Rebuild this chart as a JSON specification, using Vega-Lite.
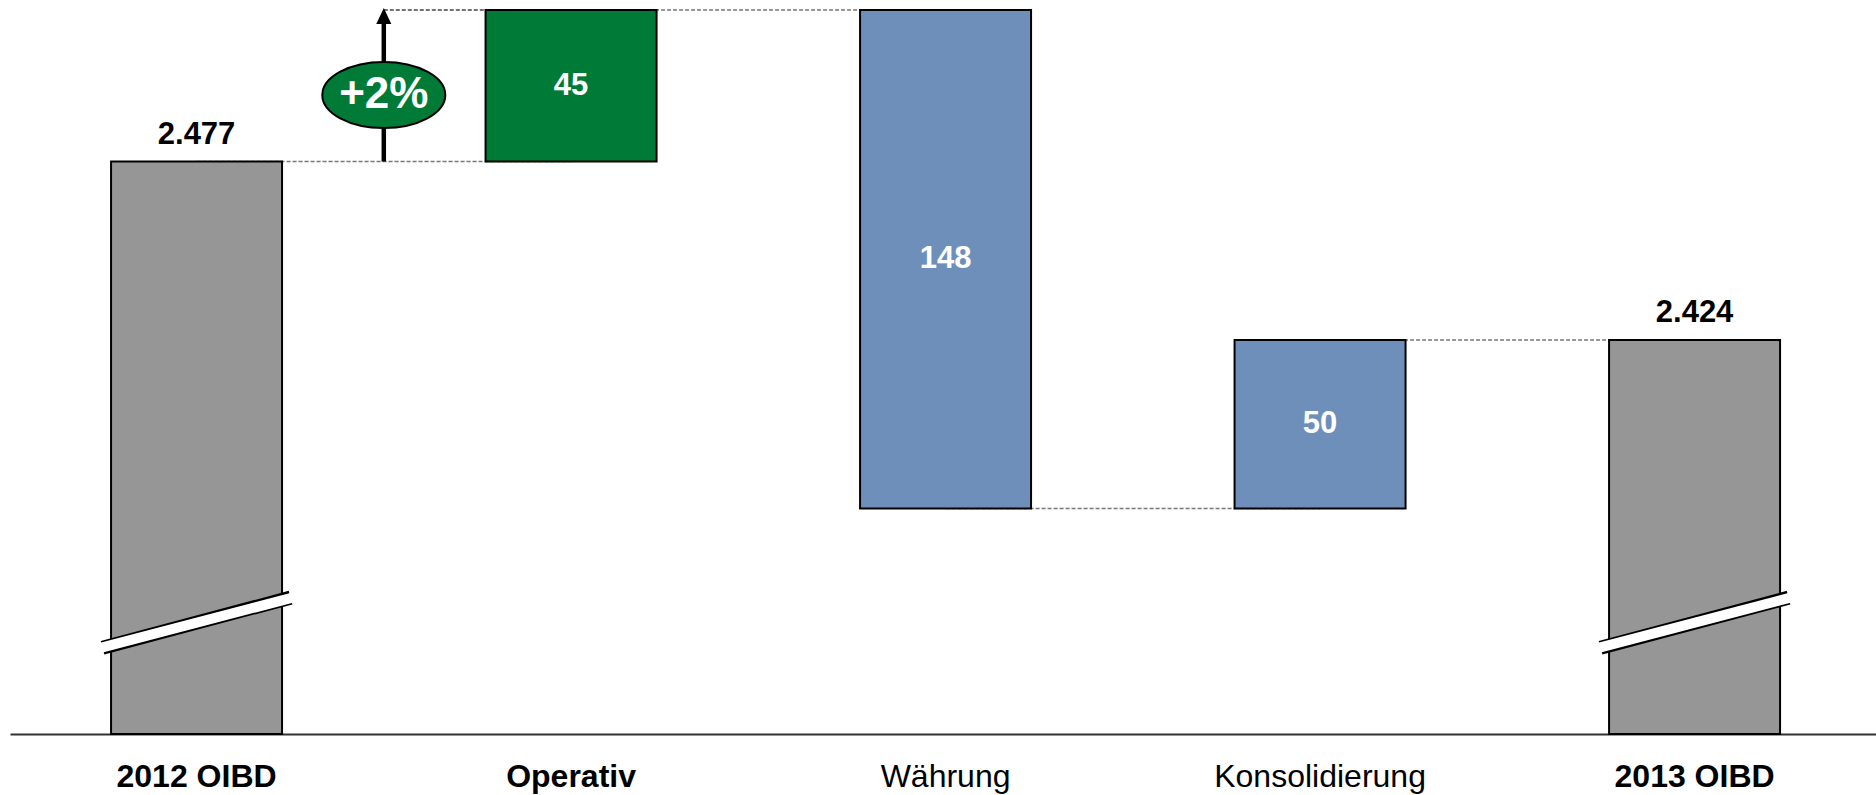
{
  "$schema": "https://vega.github.io/schema/vega-lite/v6.json",
  "width": 1866,
  "height": 734,
  "autosize": {"type": "none"},
  "padding": {"left": 10, "right": 0, "top": 0, "bottom": 61},
  "background": "white",
  "config": {"view": {"stroke": null}, "font": "Liberation Sans"},
  "datasets": {
    "bars": [
      {"cat": "2012 OIBD", "type": "total", "value": 2477, "label": "2.477"},
      {"cat": "Operativ", "type": "operativ", "start": 2477, "end": 2522, "label": "45"},
      {"cat": "Währung", "type": "effekt", "start": 2522, "end": 2374, "label": "148"},
      {"cat": "Konsolidierung", "type": "effekt", "start": 2374, "end": 2424, "label": "50"},
      {"cat": "2013 OIBD", "type": "total", "value": 2424, "label": "2.424"}
    ],
    "connectors": [
      {"from": "2012 OIBD", "to": "Operativ", "level": 2477},
      {"from": "Operativ", "to": "Währung", "level": 2522},
      {"from": "Währung", "to": "Konsolidierung", "level": 2374},
      {"from": "Konsolidierung", "to": "2013 OIBD", "level": 2424}
    ],
    "note": [{"text": "+2%"}]
  },
  "layer": [
    {
      "data": {"name": "connectors"},
      "mark": {"type": "rule", "strokeDash": [4, 2], "color": "#777777", "strokeWidth": 1.5},
      "encoding": {
        "x": {"field": "from", "type": "nominal", "title": null,
              "scale": {"domain": ["2012 OIBD", "Operativ", "Währung", "Konsolidierung", "2013 OIBD"], "paddingInner": 0.5434, "paddingOuter": 0.263, "align": 0.513},
              "axis": {"domain": true, "domainColor": "#333333", "domainWidth": 2, "ticks": false, "grid": false, "title": null,
                       "labelAngle": 0, "labelFontSize": 32, "labelColor": "black", "labelFont": "Liberation Sans",
                       "labelPadding": 27, "labelLimit": 0, "labelOverlap": false,
                       "labelFontWeight": {"condition": {"test": "datum.value == 'Währung' || datum.value == 'Konsolidierung'", "value": "normal"}, "value": "bold"}}},
        "x2": {"field": "to"},
        "y": {"field": "level", "type": "quantitative", "axis": null, "scale": {"domain": [2307, 2525], "zero": false, "nice": false}}
      }
    },
    {
      "data": {"name": "note"},
      "mark": {"type": "rule", "strokeDash": [4, 2], "color": "#444444", "strokeWidth": 1.5},
      "encoding": {
        "x": {"datum": "2012 OIBD", "type": "nominal", "bandPosition": 1.595, "title": null},
        "x2": {"datum": "Operativ"},
        "y": {"datum": 2522, "type": "quantitative", "axis": null}
      }
    },
    {
      "data": {"name": "bars"},
      "transform": [{"filter": "datum.type == 'total'"}],
      "mark": {"type": "bar", "stroke": "black", "strokeWidth": 2},
      "encoding": {
        "x": {"field": "cat", "type": "nominal", "title": null},
        "y": {"field": "value", "type": "quantitative", "axis": null},
        "y2": {"datum": 2307},
        "color": {"field": "type", "type": "nominal", "legend": null,
                  "scale": {"domain": ["total", "operativ", "effekt"], "range": ["#969696", "#007A37", "#6F8FBB"]}}
      }
    },
    {
      "data": {"name": "bars"},
      "transform": [{"filter": "datum.type != 'total'"}],
      "mark": {"type": "bar", "stroke": "black", "strokeWidth": 2},
      "encoding": {
        "x": {"field": "cat", "type": "nominal", "title": null},
        "y": {"field": "start", "type": "quantitative", "axis": null},
        "y2": {"field": "end"},
        "color": {"field": "type", "type": "nominal", "legend": null}
      }
    },
    {
      "data": {"name": "note"},
      "mark": {"type": "rule", "color": "black", "strokeWidth": 4.5},
      "encoding": {
        "x": {"datum": "2012 OIBD", "type": "nominal", "bandPosition": 1.595, "title": null},
        "y": {"datum": 2477, "type": "quantitative", "axis": null},
        "y2": {"datum": 2518}
      }
    },
    {
      "data": {"name": "note"},
      "mark": {"type": "point", "shape": "M 0 -1 L 0.94 1 L -0.94 1 Z", "size": 256, "filled": true, "color": "black", "opacity": 1},
      "encoding": {
        "x": {"datum": "2012 OIBD", "type": "nominal", "bandPosition": 1.595, "title": null},
        "y": {"datum": 2520.25, "type": "quantitative", "axis": null}
      }
    },
    {
      "data": {"name": "note"},
      "mark": {"type": "point", "shape": "M -1 0 C -1 -0.2966 -0.5523 -0.537 0 -0.537 C 0.5523 -0.537 1 -0.2966 1 0 C 1 0.2966 0.5523 0.537 0 0.537 C -0.5523 0.537 -1 0.2966 -1 0 Z", "size": 15129, "filled": true, "fill": "#007A37", "stroke": "black", "strokeWidth": 2, "opacity": 1, "fillOpacity": 1},
      "encoding": {
        "x": {"datum": "2012 OIBD", "type": "nominal", "bandPosition": 1.595, "title": null},
        "y": {"datum": 2496.8, "type": "quantitative", "axis": null}
      }
    },
    {
      "data": {"name": "note"},
      "mark": {"type": "text", "color": "white", "fontSize": 44, "fontWeight": "bold", "baseline": "middle", "align": "center", "font": "Liberation Sans"},
      "encoding": {
        "x": {"datum": "2012 OIBD", "type": "nominal", "bandPosition": 1.595, "title": null},
        "y": {"datum": 2496.8, "type": "quantitative", "axis": null},
        "text": {"field": "text"}
      }
    },
    {
      "data": {"name": "bars"},
      "transform": [{"filter": "datum.type == 'total'"}],
      "mark": {"type": "rule", "color": "black", "strokeWidth": 14, "xOffset": -94, "x2Offset": 94},
      "encoding": {
        "x": {"field": "cat", "type": "nominal", "title": null},
        "x2": {"field": "cat"},
        "y": {"datum": 2332.6, "type": "quantitative", "axis": null},
        "y2": {"datum": 2347.5}
      }
    },
    {
      "data": {"name": "bars"},
      "transform": [{"filter": "datum.type == 'total'"}],
      "mark": {"type": "rule", "color": "white", "strokeWidth": 10, "xOffset": -96, "x2Offset": 96},
      "encoding": {
        "x": {"field": "cat", "type": "nominal", "title": null},
        "x2": {"field": "cat"},
        "y": {"datum": 2332.6, "type": "quantitative", "axis": null},
        "y2": {"datum": 2347.5}
      }
    },
    {
      "data": {"name": "bars"},
      "transform": [{"filter": "datum.type == 'total'"}],
      "mark": {"type": "text", "color": "black", "fontSize": 31, "fontWeight": "bold", "baseline": "middle", "align": "center", "dy": -27, "font": "Liberation Sans"},
      "encoding": {
        "x": {"field": "cat", "type": "nominal", "title": null},
        "y": {"field": "value", "type": "quantitative", "axis": null},
        "text": {"field": "label"}
      }
    },
    {
      "data": {"name": "bars"},
      "transform": [{"filter": "datum.type != 'total'"}, {"calculate": "(datum.start + datum.end) / 2", "as": "mid"}],
      "mark": {"type": "text", "color": "white", "fontSize": 31, "fontWeight": "bold", "baseline": "middle", "align": "center", "font": "Liberation Sans"},
      "encoding": {
        "x": {"field": "cat", "type": "nominal", "title": null},
        "y": {"field": "mid", "type": "quantitative", "axis": null},
        "text": {"field": "label"}
      }
    }
  ]
}
